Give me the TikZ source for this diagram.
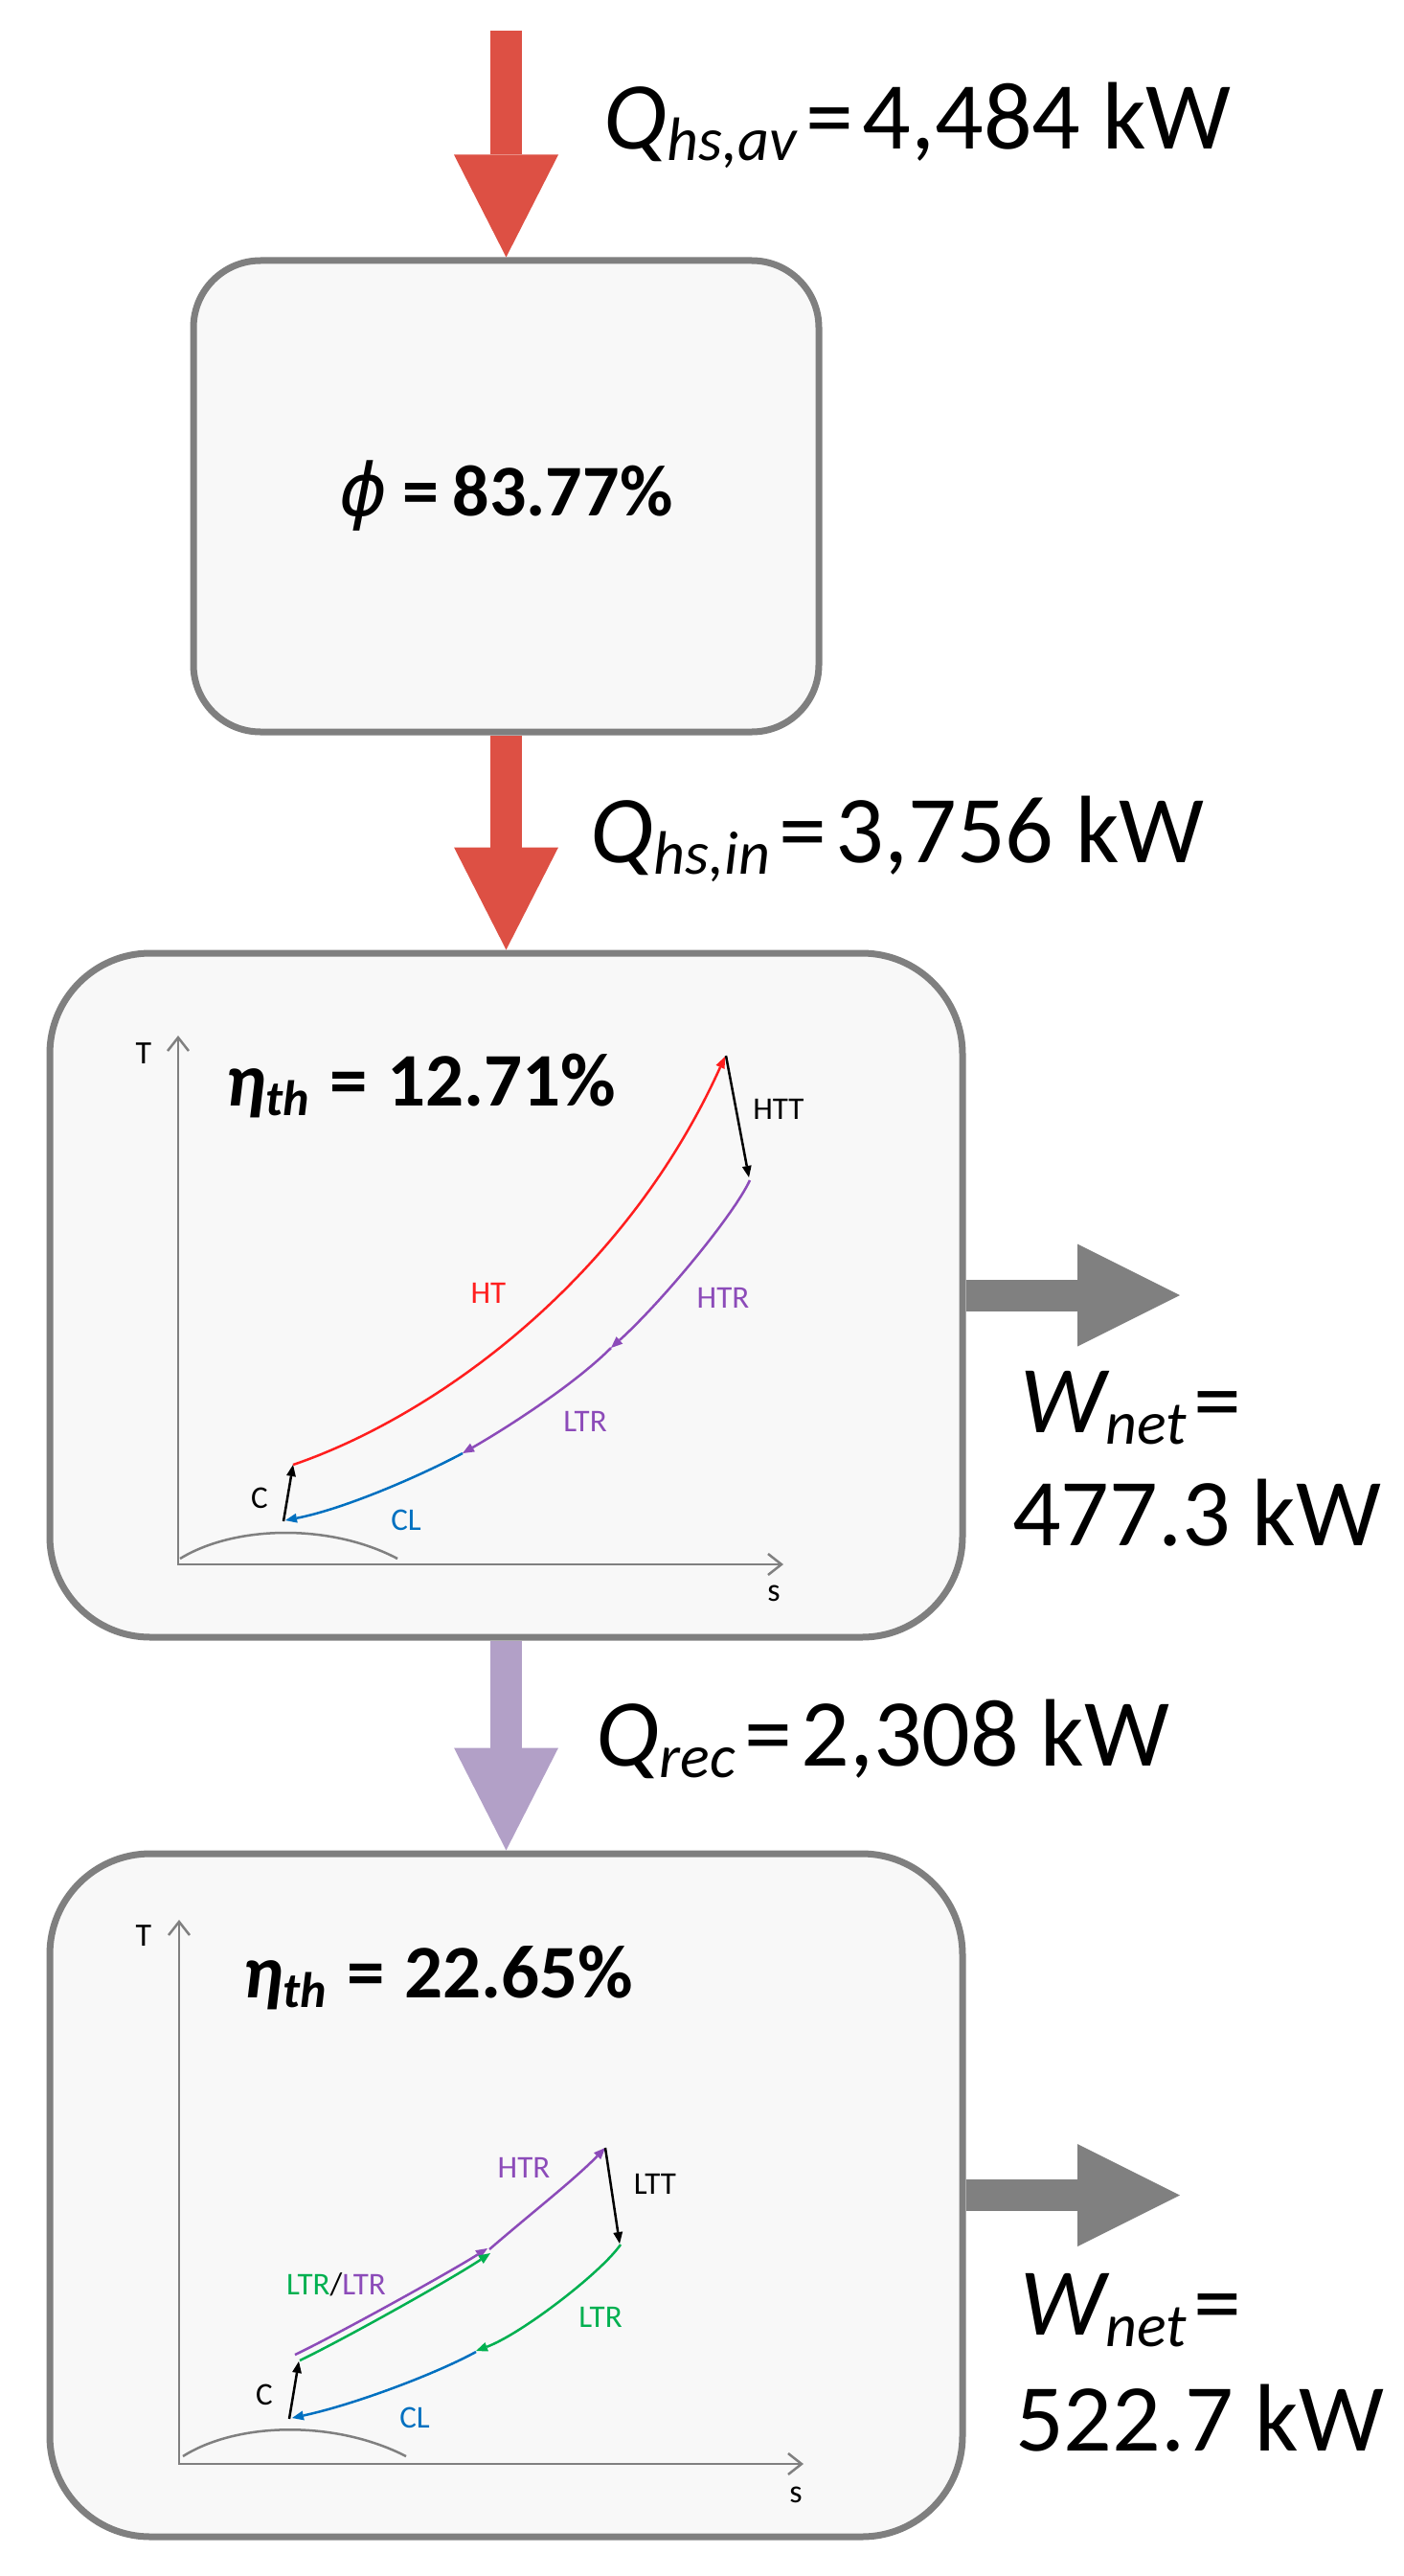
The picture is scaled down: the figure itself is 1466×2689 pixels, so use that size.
\documentclass[tikz,border=0pt]{standalone}
\usepackage{fontspec}
\setmainfont{Carlito}
\newfontfamily\phifont{DejaVu Sans}
\usetikzlibrary{arrows.meta}
\definecolor{heatred}{RGB}{221,80,68}
\definecolor{recviolet}{RGB}{178,160,199}
\definecolor{workgray}{RGB}{128,128,128}
\definecolor{boxfill}{RGB}{248,248,248}
\definecolor{boxline}{RGB}{127,127,127}
\definecolor{htred}{RGB}{255,30,30}
\definecolor{ltpurple}{RGB}{140,75,185}
\definecolor{clblue}{RGB}{0,112,192}
\definecolor{ltgreen}{RGB}{0,176,80}
\newcommand{\qsub}[1]{\raisebox{-12pt}{\fontsize{64}{64}\selectfont\itshape #1}}
\newcommand{\etasub}[1]{\raisebox{-10pt}{\fontsize{52}{52}\selectfont\bfseries\itshape #1}}
\tikzset{
    unit/.style={draw=boxline, line width=7pt, fill=boxfill},
    heat/.style={draw=heatred, line width=33pt, -{Triangle[length=107pt, width=109pt, line width=0pt]}},
    rec/.style={draw=recviolet, line width=33pt, -{Triangle[length=107pt, width=109pt, line width=0pt]}},
    work/.style={draw=workgray, line width=33pt, -{Triangle[length=107pt, width=107pt, line width=0pt]}},
    big/.style={font=\fontsize{100}{118}\selectfont, anchor=base west},
    eta/.style={font=\fontsize{79}{90}\selectfont\bfseries, anchor=base west},
    axis/.style={draw=workgray, line width=2.5pt, {Straight Barb[length=14pt, width=22pt]}-{Straight Barb[length=14pt, width=22pt]}},
    dome/.style={draw=workgray, line width=2.5pt},
    cyc/.style={line width=2.5pt, -{Triangle[length=12pt, width=10pt, line width=0pt]}},
    lbl/.style={font=\fontsize{33}{38}\selectfont},
    ax/.style={font=\fontsize{34}{40}\selectfont}
}
\begin{document}
\begin{tikzpicture}
  [
    x                       = 1pt,
    y                       = -1pt,
    every node/.style       = {inner sep=0pt},
  ]
  \useasboundingbox (0,0) rectangle (1466,2689);
  % units
  \node [unit, rounded corners=70pt, minimum width=653pt, minimum height=492pt,
         font=\fontsize{76}{80}\selectfont\bfseries] (rcv) at (528.5,518)
        {{\phifont\mdseries\itshape ϕ}\kern16pt=\kern14pt83.77\%};
  \node [unit, rounded corners=105pt, minimum width=953pt, minimum height=714pt] (top) at (528.5,1352) {};
  \node [unit, rounded corners=105pt, minimum width=953pt, minimum height=713pt] (bot) at (528.5,2291.5) {};
  % flows
  \coordinate (qav) at (528.5,32);
  \coordinate (w1) at (1232,1352);
  \coordinate (w2) at (1232,2291.5);
  \draw [heat] (qav) -- (rcv.north);
  \draw [heat] (rcv.south) -- (top.north);
  \draw [rec] (top.south) -- (bot.north);
  \draw [work] (top.east) -- (w1);
  \draw [work] (bot.east) -- (w2);
  \node [big] (qavl) at (630,156) {{\itshape Q}\qsub{hs,av}\kern10pt=\kern9pt4,484 kW};
  \node [big] (qinl) at (616,900) {{\itshape Q}\qsub{hs,in}\kern10pt=\kern9pt3,756 kW};
  \node [big] (qrecl) at (622,1843) {{\itshape Q}\qsub{rec}\kern10pt=\kern9pt2,308 kW};
  \node [big] (wn1) at (1065,1495) {{\itshape W}\qsub{net}\kern8pt=};
  \node [big] (wv1) at (1057,1613) {477.3 kW};
  \node [big] (wn2) at (1065,2437) {{\itshape W}\qsub{net}\kern8pt=};
  \node [big] (wv2) at (1060,2558) {522.7 kW};
  % top cycle
  \node [eta] (eta1) at (235,1154) {{\itshape η}\etasub{th}\kern22pt=\kern20pt12.71\%};
  \draw [axis] (186,1081) |- (818,1633);
  \node [ax] (t1) at (150,1100) {T};
  \node [ax] (s1) at (808,1663) {s};
  \draw [dome] (188,1627) .. controls (245,1592) and (345,1590) .. (415,1627);
  \draw [cyc, black] (296,1588) -- (306,1529);
  \draw [cyc, htred] (306,1529) .. controls (450,1480) and (650,1340) .. (757,1103);
  \draw [cyc, black] (758,1102) -- (782,1229);
  \draw [cyc, ltpurple] (783,1232) .. controls (765,1270) and (690,1360) .. (638,1407);
  \draw [cyc, ltpurple] (638,1407) .. controls (600,1445) and (530,1490) .. (483,1517);
  \draw [cyc, clblue] (483,1517) .. controls (440,1540) and (360,1575) .. (298,1587);
  \node [lbl, text=htred] (ht1) at (510,1350) {HT};
  \node [lbl] (htt1) at (813,1158) {HTT};
  \node [lbl, text=ltpurple] (htr1) at (755,1355) {HTR};
  \node [lbl, text=ltpurple] (ltr1) at (611,1484) {LTR};
  \node [lbl, text=clblue] (cl1) at (424,1587) {CL};
  \node [lbl] (c1) at (271,1564) {C};
  % bottom cycle
  \node [eta] (eta2) at (253,2085) {{\itshape η}\etasub{th}\kern22pt=\kern20pt22.65\%};
  \draw [axis] (187,2004) |- (839,2572);
  \node [ax] (t2) at (150,2021) {T};
  \node [ax] (s2) at (831,2604) {s};
  \draw [dome] (191,2564) .. controls (248,2528) and (350,2526) .. (424,2564);
  \draw [cyc, black] (302,2525) -- (312,2465);
  \draw [cyc, ltpurple] (308,2458) .. controls (350,2438) and (466,2374) .. (509,2347);
  \draw [cyc, ltgreen] (313,2464) .. controls (355,2444) and (470,2380) .. (512,2352);
  \draw [cyc, ltpurple] (511,2348) .. controls (555,2310) and (600,2275) .. (632,2242);
  \draw [cyc, black] (632,2242) -- (647,2342);
  \draw [cyc, ltgreen] (648,2343) .. controls (628,2372) and (545,2436) .. (497,2454);
  \draw [cyc, clblue] (497,2455) .. controls (455,2478) and (370,2510) .. (305,2524);
  \node [lbl, text=ltpurple] (htr2) at (547,2263) {HTR};
  \node [lbl] (ltt2) at (684,2280) {LTT};
  \node [lbl] (ltrs2) at (351,2385) {\textcolor{ltgreen}{LTR}/\textcolor{ltpurple}{LTR}};
  \node [lbl, text=ltgreen] (ltr2) at (627,2419) {LTR};
  \node [lbl, text=clblue] (cl2) at (433,2524) {CL};
  \node [lbl] (c2) at (276,2500) {C};
\end{tikzpicture}
\end{document}
